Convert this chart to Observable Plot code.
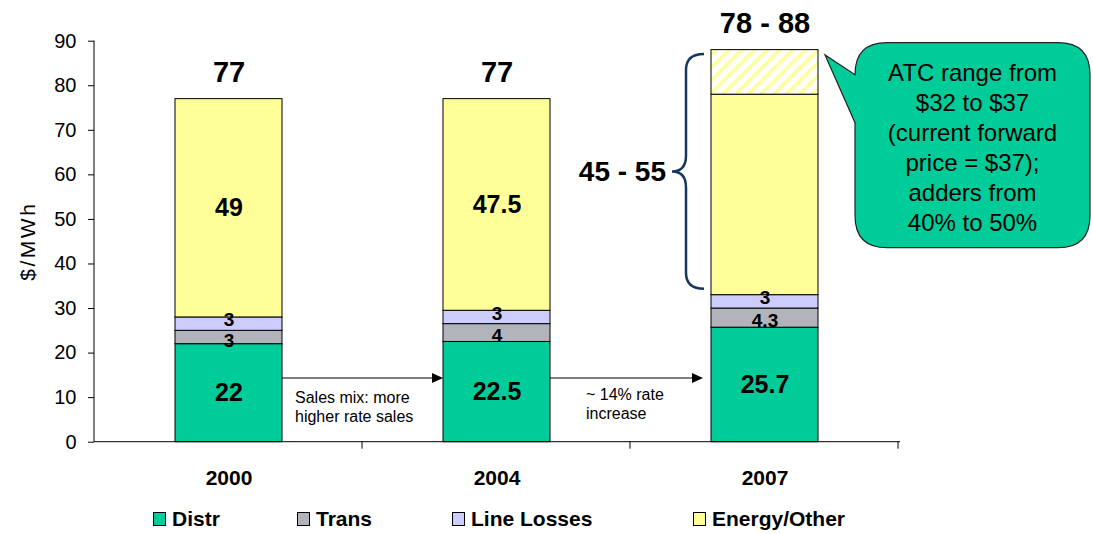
<!DOCTYPE html>
<html><head><meta charset="utf-8">
<script src="https://cdn.jsdelivr.net/npm/d3@7"></script>
<script src="https://cdn.jsdelivr.net/npm/@observablehq/plot@0.6"></script>
<style>
body{margin:0;background:#fff;font-family:"Liberation Sans",Arial,sans-serif;}
#chart{position:relative;width:1093px;height:534px;overflow:hidden;}
#legend{position:absolute;left:0;top:500px;width:1093px;height:34px;}
.li{position:absolute;top:0;height:38px;display:flex;align-items:center;font-weight:bold;font-size:21px;color:#000;}
.sw{width:11px;height:12px;border:1px solid #000;margin-right:6px;box-sizing:content-box;}
svg g[aria-label="x-axis tick label"] text{font-weight:bold;}
</style></head><body><div id="chart"></div>
<script>
// ---- data ----
const years = ["2000", "2004", "2007"];
const segments = ["Distr", "Trans", "Line Losses", "Energy/Other"];
const distr = [22, 22.5, 25.7];
const trans = [3, 4, 4.3];
const lineLosses = [3, 3, 3];
const energy = [49, 47.5, 45];
const energyUpside = [0, 0, 10];
const distrLabels = ["22", "22.5", "25.7"];
const transLabels = ["3", "4", "4.3"];
const lossLabels = ["3", "3", "3"];
const energyLabels = ["49", "47.5", ""];
const totalLabels = ["77", "77", "78 - 88"];
const yTicks = [0, 10, 20, 30, 40, 50, 60, 70, 80, 90];
const yLabel = "$/MWh";
const rangeLabel = "45 - 55";
const rangeSpan = [34.3, 87];
const calloutLines = ["ATC range from", "$32 to $37", "(current forward", "price = $37);", "adders from", "40% to 50%"];
const noteFrom = ["2000", "2004"];
const noteTo = ["2004", "2007"];
const noteValue = [14.3, 14.3];
const noteLines = [["Sales mix: more", "higher rate sales"], ["~ 14% rate", "increase"]];

// ---- styles ----
const colors = ["#00CC99", "#B3B3BB", "#CCCCFF", "#FFFF99"];
const FONT = "Liberation Sans, Arial, sans-serif";

// ---- build tables ----
const seriesValues = [distr, trans, lineLosses, energy];
const seriesLabels = [distrLabels, transLabels, lossLabels, energyLabels];
const bigRows = [], transRows = [], lossRows = [];
years.forEach((yr, i) => {
  let base = 0;
  segments.forEach((s, j) => {
    const v = seriesValues[j][i];
    const row = {year: yr, mid: base + v / 2, text: seriesLabels[j][i]};
    (j === 1 ? transRows : j === 2 ? lossRows : bigRows).push(row);
    base += v;
  });
});
const table = [];
years.forEach((yr, i) => segments.forEach((s, j) => table.push({year: yr, segment: s, value: seriesValues[j][i]})));
const totals = years.map((yr, i) => seriesValues.reduce((a, s) => a + s[i], 0));
const upside = years.map((yr, i) => ({year: yr, y1: totals[i], y2: totals[i] + energyUpside[i]})).filter(d => d.y2 > d.y1);
const topRows = years.map((yr, i) => ({year: yr, top: totals[i] + energyUpside[i], text: totalLabels[i]}));

function annotations(index, scales, values, dims) {
  const x = scales.x, y = scales.y;
  const bw = typeof x.bandwidth === "function" ? x.bandwidth() : scales.scales.x.bandwidth;
  const step = typeof x.step === "function" ? x.step() : scales.scales.x.step;
  const r = x.range();
  const g = d3.create("svg:g").attr("text-anchor", "start");
  // hatch pattern
  const defs = g.append("defs");
  const pat = defs.append("pattern").attr("id", "hatch").attr("patternUnits", "userSpaceOnUse")
    .attr("width", 9).attr("height", 9).attr("patternTransform", "rotate(45)");
  pat.append("rect").attr("width", 9).attr("height", 9).attr("fill", "#fff");
  pat.append("rect").attr("width", 3.5).attr("height", 9).attr("fill", "#FFFF99");
  // axis lines
  const yb = y(0), yt = y(90);
  g.append("line").attr("x1", r[0]).attr("x2", r[0]).attr("y1", yt).attr("y2", yb).attr("stroke", "#000");
  g.append("line").attr("x1", r[0]).attr("x2", r[1]).attr("y1", yb).attr("y2", yb).attr("stroke", "#000");
  for (let i = 1; i <= years.length; i++) {
    const xx = r[0] + i * step;
    g.append("line").attr("x1", xx).attr("x2", xx).attr("y1", yb).attr("y2", yb + 7).attr("stroke", "#000");
  }
  // y label
  g.append("text").attr("transform", `translate(${r[0] - 66},${(yt + yb) / 2}) rotate(-90)`)
    .attr("text-anchor", "middle").attr("dy", "0.35em").attr("font-family", FONT)
    .attr("font-size", 21).attr("letter-spacing", 2.5).text(yLabel);
  // arrows with notes
  noteFrom.forEach((f, k) => {
    const xs = x(f) + bw, xe = x(noteTo[k]) - (k === 0 ? 0 : 8), yy = y(noteValue[k]);
    g.append("line").attr("x1", xs).attr("x2", xe - 9).attr("y1", yy).attr("y2", yy).attr("stroke", "#000").attr("stroke-width", 1.2);
    g.append("path").attr("d", `M${xe},${yy}L${xe - 11},${yy - 5}L${xe - 11},${yy + 5}Z`).attr("fill", "#000");
    const tx = xs + (k === 0 ? 13 : 36);
    noteLines[k].forEach((ln, m) => {
      g.append("text").attr("x", tx).attr("y", yy + (k === 0 ? 19 : 16) + m * 19).attr("dy", "0.35em")
        .attr("text-anchor", "start")
        .attr("font-family", FONT).attr("font-size", 16).attr("fill", "#000").text(ln);
    });
  });
  // brace on 2007
  const last = years[years.length - 1];
  const bl = x(last), br = x(last) + bw;
  const top = y(rangeSpan[1]), bot = y(rangeSpan[0]), mid = (top + bot) / 2;
  const endX = bl - 7, spX = bl - 25, tipX = bl - 39, rr = 16;
  g.append("path").attr("d",
    `M${endX},${top}Q${spX},${top} ${spX},${top + rr}L${spX},${mid - rr}Q${spX},${mid} ${tipX},${mid}` +
    `Q${spX},${mid} ${spX},${mid + rr}L${spX},${bot - rr}Q${spX},${bot} ${endX},${bot}`)
    .attr("fill", "none").attr("stroke", "#17375E").attr("stroke-width", 2.5);
  g.append("text").attr("x", tipX - 6).attr("y", mid).attr("dy", "0.35em").attr("text-anchor", "end")
    .attr("font-family", FONT).attr("font-weight", "bold").attr("font-size", 28).attr("fill", "#000").text(rangeLabel);
  // callout bubble
  const L = br + 37, R = L + 235, T = yt + 2, B = T + 205, cr = 32;
  const tipPX = br + 7, tipPY = y(86.8);
  g.append("path").attr("d",
    `M${L + cr},${T}H${R - cr}Q${R},${T} ${R},${T + cr}V${B - cr}Q${R},${B} ${R - cr},${B}H${L + cr}` +
    `Q${L},${B} ${L},${B - cr}V${T + 80}L${tipPX},${tipPY}L${L},${T + 32}V${T + cr}Q${L},${T} ${L + cr},${T}Z`)
    .attr("fill", "#00CC99").attr("stroke", "#222").attr("stroke-width", 1.2);
  calloutLines.forEach((ln, m) => {
    g.append("text").attr("x", (L + R) / 2).attr("y", T + 30 + m * 30).attr("dy", "0.35em")
      .attr("text-anchor", "middle").attr("font-family", FONT).attr("font-size", 24).attr("fill", "#000").text(ln);
  });
  return g.node();
}

const plot = Plot.plot({
  width: 1093,
  height: 500,
  marginLeft: 94,
  marginRight: 193,
  marginTop: 40.7,
  marginBottom: 58.3,
  style: {fontFamily: FONT, color: "#000", background: "#fff"},
  x: {domain: years, paddingInner: 0.6, paddingOuter: 0.3},
  y: {domain: [0, 90]},
  color: {domain: segments, range: colors},
  marks: [
    Plot.barY(table, {x: "year", y: "value", fill: "segment", stroke: "#000", strokeWidth: 1, inset: 0}),
    Plot.barY(upside, {x: "year", y1: "y1", y2: "y2", fill: "url(#hatch)", stroke: "#000", strokeWidth: 1, inset: 0}),
    Plot.text(bigRows, {x: "year", y: "mid", text: "text", fontSize: 25, fontWeight: "bold", fill: "#000"}),
    Plot.text(transRows, {x: "year", y: "mid", text: "text", dy: 3, fontSize: 19, fontWeight: "bold", fill: "#000"}),
    Plot.text(lossRows, {x: "year", y: "mid", text: "text", dy: -4, fontSize: 19, fontWeight: "bold", fill: "#000"}),
    Plot.text(topRows, {x: "year", y: "top", text: "text", dy: -26, fontSize: 29, fontWeight: "bold", fill: "#000"}),
    Plot.axisY(yTicks, {tickSize: 6, tickPadding: 12, fontSize: 20, label: null}),
    Plot.axisX({tickSize: 0, tickPadding: 28, fontSize: 21, fontWeight: "bold", label: null}),
    annotations
  ]
});
const chart = document.getElementById("chart");
chart.appendChild(plot);

// legend
const legendLeft = [153, 297, 452, 693];
const legend = document.createElement("div");
legend.id = "legend";
segments.forEach((s, i) => {
  const item = document.createElement("div");
  item.className = "li";
  item.style.left = legendLeft[i] + "px";
  const sw = document.createElement("span");
  sw.className = "sw";
  sw.style.background = colors[i];
  item.appendChild(sw);
  item.appendChild(document.createTextNode(s));
  legend.appendChild(item);
});
chart.appendChild(legend);
</script></body></html>
